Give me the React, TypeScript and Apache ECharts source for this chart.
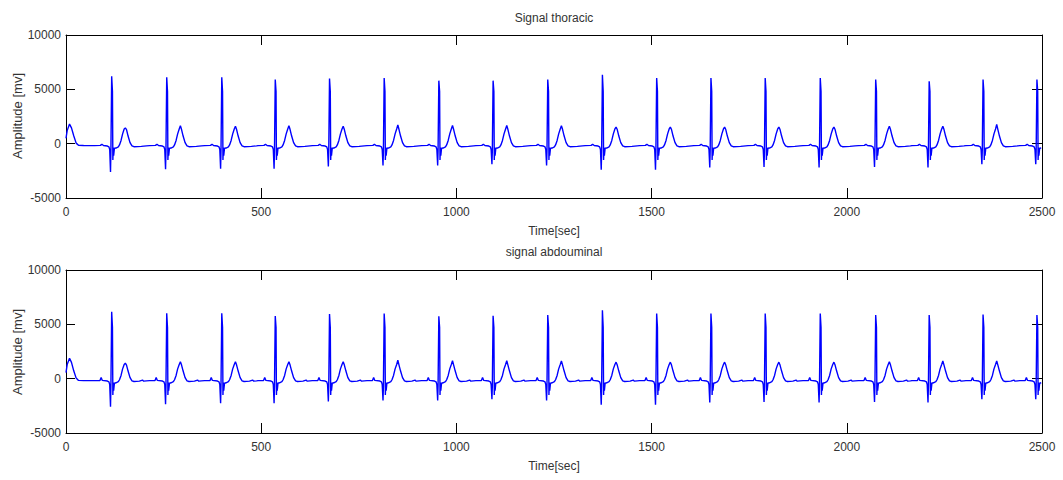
import React, { useEffect, useRef } from "react";
import * as echarts from "echarts";

// ---- axis ticks ----
const xTicks = [0, 500, 1000, 1500, 2000, 2500];
const yTicks = [-5000, 0, 5000, 10000];

// ---- texts ----
const titleTop = "Signal thoracic";
const titleBottom = "signal abdouminal";
const xName = "Time[sec]";
const yName = "Amplitude [mv]";

// ---- R-peak sample positions ----
const rPeakSamples = [118, 259, 400, 537, 676, 816, 956, 1095, 1235, 1375, 1514, 1653, 1792, 1933, 2075, 2212, 2350, 2488];

// ---- per-beat amplitudes, thoracic ----
const thoracicR = [6200, 6100, 6100, 5900, 6000, 6050, 5800, 5800, 5900, 6350, 6050, 6050, 6050, 6050, 5900, 5750, 5900, 5900];
const thoracicQ = [-2600, -2350, -2300, -2300, -2100, -2000, -2000, -1900, -2000, -2400, -2400, -2200, -2150, -2200, -2150, -2200, -1900, -1900];
const thoracicT = [1450, 1650, 1600, 1650, 1600, 1730, 1670, 1670, 1650, 1520, 1520, 1520, 1520, 1520, 1600, 1600, 1770, 1600];

// ---- per-beat amplitudes, abdominal ----
const abdominalR = [6150, 6020, 6020, 5770, 5950, 6000, 5750, 5780, 5850, 6300, 6000, 6000, 6000, 6000, 5860, 5860, 5900, 5860];
const abdominalQ = [-2580, -2360, -2270, -2270, -2100, -2000, -2000, -1900, -2000, -2400, -2400, -2200, -2150, -2200, -2150, -2200, -1900, -1900];
const abdominalT = [1420, 1560, 1560, 1560, 1560, 1700, 1650, 1650, 1620, 1520, 1520, 1520, 1520, 1520, 1560, 1630, 1630, 1600];

// ---- T-wave tail of the beat before sample 0 ----
const thoracicLead = [[0, 500], [3, 1200], [9, 1800], [14, 1450], [20, 700], [26, 50], [32, -150], [45, -170]];
const abdominalLead = [[0, 550], [3, 1300], [9, 1880], [14, 1500], [20, 700], [26, 50], [32, -160], [45, -180]];

// ---- beat shape: [offset from R peak in samples, value or marker] ----
const thoracicBeat: [number, number | string][] = [
  [-45, -180], [-30, -160], [-26, -60], [-22, -170], [-12, -220], [-8, -300], [-6, -550],
  [-4, "Q"], [-3, -700], [-1, "R"], [1, 4800], [2, -1500], [3, -350], [4, -1100], [6, -420],
  [10, -400], [16, -300], [19, -120], [23, 300], [27, 900], [31, 1350], [34, "T"], [37, 1300],
  [41, 700], [46, 100], [51, -200], [56, -280], [75, -250], [88, -200],
];
const abdominalBeat: [number, number | string][] = [
  [-45, -180], [-31, -170], [-28, 100], [-25, -160], [-12, -220], [-8, -300], [-6, -550],
  [-4, "Q"], [-3, -700], [-1, "R"], [1, 4700], [2, -1500], [3, -350], [4, -1100], [6, -420],
  [10, -380], [16, -280], [19, -100], [23, 300], [27, 900], [31, 1300], [34, "T"], [37, 1250],
  [41, 700], [46, 100], [51, -200], [56, -260], [70, -230], [78, -130], [81, -230], [88, -200],
];

function buildSeries(lead: number[][], beat: [number, number | string][], R: number[], Q: number[], T: number[]) {
  const out: number[][] = lead.map((p) => [p[0], p[1]]);
  rPeakSamples.forEach((r, i) => {
    beat.forEach(([dx, v]) => {
      const x = r + dx;
      if (x < 0 || x > 2500) return;
      let y: number;
      if (v === "R") y = R[i];
      else if (v === "Q") y = Q[i];
      else if (v === "T") y = T[i];
      else y = v as number;
      if (out.length && x <= out[out.length - 1][0]) return;
      out.push([x, y]);
    });
  });
  return out;
}

const FONT = "Liberation Sans, Arial, sans-serif";
const TXT = "#333";
const AX = "#000";

export default function App() {
  const ref = useRef<HTMLDivElement>(null);
  useEffect(() => {
    if (!ref.current) return;
    const chart = echarts.init(ref.current, undefined, { renderer: "svg" });
    const thor = buildSeries(thoracicLead, thoracicBeat, thoracicR, thoracicQ, thoracicT);
    const abd = buildSeries(abdominalLead, abdominalBeat, abdominalR, abdominalQ, abdominalT);

    const xMin = xTicks[0];
    const xMax = xTicks[xTicks.length - 1];
    const xInt = xTicks[1] - xTicks[0];
    const yMin = yTicks[0];
    const yMax = yTicks[yTicks.length - 1];
    const yInt = yTicks[1] - yTicks[0];

    const grids = [
      { left: 66, width: 976, top: 35, height: 163, containLabel: false, outerBoundsMode: "none" },
      { left: 66, width: 976, top: 270, height: 163, containLabel: false, outerBoundsMode: "none" },
    ];

    const xAxes: any[] = [];
    const yAxes: any[] = [];
    grids.forEach((_, g) => {
      xAxes.push({
        type: "value", gridIndex: g, position: "bottom", min: xMin, max: xMax, interval: xInt,
        axisLine: { show: true, onZero: false, lineStyle: { color: AX, width: 1 } },
        axisTick: { show: true, inside: true, length: 10, lineStyle: { color: AX } },
        axisLabel: { show: true, margin: 8, fontSize: 12, color: TXT, fontFamily: FONT, formatter: (v: number) => String(v) },
        splitLine: { show: false },
        name: xName, nameLocation: "middle", nameGap: 27,
        nameTextStyle: { fontSize: 12, color: TXT, fontFamily: FONT },
      });
      xAxes.push({
        type: "value", gridIndex: g, position: "top", min: xMin, max: xMax, interval: xInt,
        axisLine: { show: true, onZero: false, lineStyle: { color: AX, width: 1 } },
        axisTick: { show: true, inside: true, length: 10, lineStyle: { color: AX } },
        axisLabel: { show: false },
        splitLine: { show: false },
      });
      yAxes.push({
        type: "value", gridIndex: g, position: "left", min: yMin, max: yMax, interval: yInt,
        axisLine: { show: true, onZero: false, lineStyle: { color: AX, width: 1 } },
        axisTick: { show: true, inside: true, length: 9, lineStyle: { color: AX } },
        axisLabel: { show: true, margin: 5, fontSize: 12, color: TXT, fontFamily: FONT, formatter: (v: number) => String(v) },
        splitLine: { show: false },
      });
      yAxes.push({
        type: "value", gridIndex: g, position: "right", min: yMin, max: yMax, interval: yInt,
        axisLine: { show: true, onZero: false, lineStyle: { color: AX, width: 1 } },
        axisTick: { show: true, inside: true, length: 10, lineStyle: { color: AX } },
        axisLabel: { show: false },
        splitLine: { show: false },
      });
    });

    const txt = (text: string, x: number, y: number, size: number, rotation = 0) => ({
      type: "text", x, y, rotation,
      style: { text, fill: TXT, font: `${size}px ${FONT}`, align: "center", verticalAlign: "middle" },
    });

    chart.setOption({
      animation: false,
      backgroundColor: "#fff",
      grid: grids,
      xAxis: xAxes,
      yAxis: yAxes,
      graphic: [
        txt(titleTop, 554, 17.5, 12),
        txt(titleBottom, 554, 252, 12),
        txt(yName, 17, 116, 13, Math.PI / 2),
        txt(yName, 17, 352, 13, Math.PI / 2),
      ],
      series: [
        {
          type: "line", xAxisIndex: 0, yAxisIndex: 0, data: thor, showSymbol: false, symbol: "none",
          lineStyle: { color: "#0000ff", width: 1.4 }, itemStyle: { color: "#0000ff" }, clip: true,
        },
        {
          type: "line", xAxisIndex: 2, yAxisIndex: 2, data: abd, showSymbol: false, symbol: "none",
          lineStyle: { color: "#0000ff", width: 1.4 }, itemStyle: { color: "#0000ff" }, clip: true,
        },
      ],
    });
    return () => chart.dispose();
  }, []);
  return <div ref={ref} style={{ position: "fixed", left: 0, top: 0, width: 1063, height: 480, background: "#fff" }} />;
}
